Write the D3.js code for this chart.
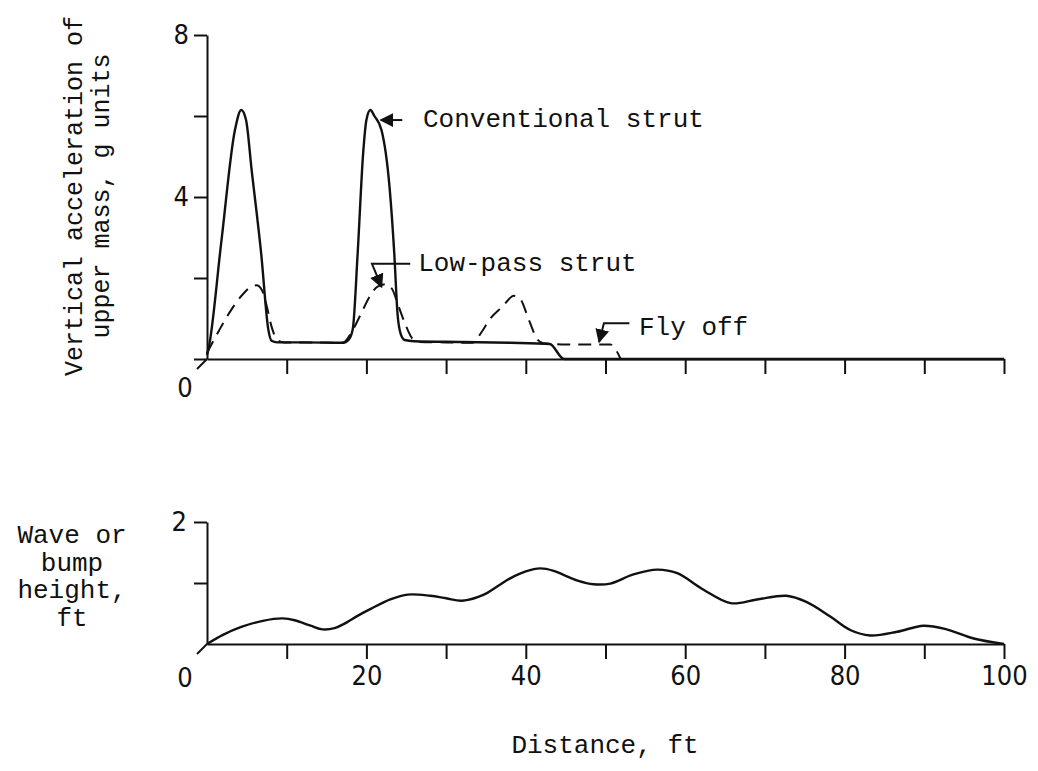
<!DOCTYPE html>
<html>
<head>
<meta charset="utf-8">
<script src="https://cdn.jsdelivr.net/npm/d3@7"></script>
<style>
  body { margin: 0; background: #fff; }
  .type { font-family: "Liberation Mono", "Cousine", "Nimbus Mono PS", "FreeMono", "Courier New", Courier, "DejaVu Sans Mono", monospace; font-size: 26px; fill: #111; }
  .num { font-family: "Liberation Sans Narrow", "DejaVu Sans Condensed", "DejaVu Sans", sans-serif; font-stretch: condensed; font-size: 27px; fill: #111; }
  .axis path, .axis line { stroke: #111; stroke-width: 2; }
</style>
</head>
<body>
<svg id="chart" width="1038" height="771"></svg>
<script>
// conventional strut, upper mass acceleration (g) vs distance (ft)
const convDist  = [0, 0.2, 1.8, 3.5, 4.3, 4.9, 5.6, 6.8, 7.7, 8.1, 8.8, 12, 17.1, 17.8, 18.3, 18.9, 19.6, 20.0, 20.5, 21.0, 21.9, 22.9, 23.5, 23.9, 24.3, 24.8, 26, 32, 38, 43, 44.8, 100]
const convAccel = [0.1, 0.26, 2.9, 5.65, 6.15, 5.9, 4.67, 2.6, 0.72, 0.45, 0.41, 0.41, 0.40, 0.48, 0.75, 2.6, 5.1, 5.9, 6.15, 6.0, 5.65, 4.25, 2.6, 1.13, 0.62, 0.47, 0.44, 0.42, 0.40, 0.37, 0, 0]

// low-pass strut
const lowDist  = [0, 1.5, 3, 4.5, 5.5, 6.2, 6.9, 7.5, 8.1, 8.8, 9.6, 13, 17, 18.3, 19.4, 20.4, 21.4, 22.5, 23.3, 23.9, 24.5, 25, 25.8, 26.7, 30, 33.3, 34.5, 35.4, 37.1, 38.5, 39.3, 40.4, 41.5, 42.2, 45, 50.6, 51.9]
const lowAccel = [0.15, 0.7, 1.2, 1.6, 1.78, 1.82, 1.7, 1.3, 0.8, 0.48, 0.41, 0.41, 0.40, 0.72, 1.15, 1.54, 1.79, 1.85, 1.7, 1.38, 1.05, 0.8, 0.5, 0.42, 0.41, 0.40, 0.68, 0.96, 1.3, 1.56, 1.48, 0.96, 0.47, 0.39, 0.36, 0.36, 0]

// wave or bump height (ft) vs distance (ft)
const waveDist   = [0, 2, 4.3, 7, 9.5, 11, 13, 14.5, 16, 17.2, 19, 20.6, 23, 25.2, 28, 30, 32, 34.6, 36.5, 38.1, 40, 41.8, 43.5, 44.8, 46.5, 48.5, 50.6, 53.5, 56.5, 59, 62.3, 65.7, 69, 72.7, 75.2, 78.2, 80.7, 83.2, 86.6, 89.9, 92.8, 96.2, 100]
const waveHeight = [0, 0.15, 0.28, 0.38, 0.42, 0.39, 0.30, 0.24, 0.26, 0.33, 0.47, 0.58, 0.73, 0.81, 0.79, 0.75, 0.71, 0.80, 0.95, 1.08, 1.19, 1.24, 1.2, 1.13, 1.04, 0.98, 0.99, 1.14, 1.22, 1.16, 0.89, 0.67, 0.73, 0.79, 0.69, 0.45, 0.23, 0.14, 0.20, 0.30, 0.24, 0.09, 0]

const distTicks = [10, 20, 30, 40, 50, 60, 70, 80, 90, 100]
const accelTicks = [0, 2, 4, 6, 8]
const accelLabels = [4, 8]
const waveTicks = [1, 2]
const waveLabels = [2]

const svg = d3.select("#chart")

let x = d3.scaleLinear().domain([0, 100]).range([207, 1004])
let yTop = d3.scaleLinear().domain([0, 8]).range([359, 35])
let yBot = d3.scaleLinear().domain([0, 2]).range([644, 522])

// top panel axes
svg.append("g")
  .attr("class", "axis")
  .attr("transform", `translate(0,${yTop(0)})`)
  .call(d3.axisBottom(x).tickValues(distTicks).tickSize(15).tickSizeOuter(0).tickFormat(""))

svg.append("g")
  .attr("class", "axis")
  .attr("transform", `translate(${x(0)},0)`)
  .call(d3.axisLeft(yTop).tickValues(accelTicks).tickSize(13).tickSizeOuter(0).tickPadding(5)
    .tickFormat(d => accelLabels.includes(d) ? d : ""))

// bottom panel axes
let botX = svg.append("g")
  .attr("class", "axis")
  .attr("transform", `translate(0,${yBot(0)})`)
  .call(d3.axisBottom(x).tickValues(distTicks).tickSize(15).tickSizeOuter(0)
    .tickFormat(d => d % 20 === 0 ? d : ""))
botX.selectAll("text").attr("y", 22)

svg.append("g")
  .attr("class", "axis")
  .attr("transform", `translate(${x(0)},0)`)
  .call(d3.axisLeft(yBot).tickValues(waveTicks).tickSize(13).tickSizeOuter(0).tickPadding(7)
    .tickFormat(d => waveLabels.includes(d) ? d : ""))

svg.selectAll(".axis").attr("font-family", null).attr("font-size", null)
svg.selectAll(".axis text").attr("class", "num").attr("fill", null)

// origin strokes and zero labels
;[yTop(0), yBot(0)].forEach((y0, i) => {
  svg.append("line")
    .attr("x1", x(0)).attr("y1", y0)
    .attr("x2", x(0) - 10).attr("y2", y0 + 10)
    .attr("stroke", "#111").attr("stroke-width", 2)
  svg.append("text")
    .attr("class", "num")
    .attr("x", x(0) - 22).attr("y", y0 + (i === 0 ? 28 : 33))
    .attr("text-anchor", "middle")
    .attr("dominant-baseline", "central")
    .text("0")
})

// curves
let lineTop = d3.line().x(d => x(d[0])).y(d => yTop(d[1])).curve(d3.curveMonotoneX)
let lineBot = d3.line().x(d => x(d[0])).y(d => yBot(d[1])).curve(d3.curveCatmullRom.alpha(0.5))

svg.append("path")
  .datum(lowDist.map((d, i) => [d, lowAccel[i]]))
  .attr("d", lineTop)
  .attr("fill", "none").attr("stroke", "#111").attr("stroke-width", 2)
  .attr("stroke-dasharray", "13,8")

svg.append("path")
  .datum(convDist.map((d, i) => [d, convAccel[i]]))
  .attr("d", lineTop)
  .attr("fill", "none").attr("stroke", "#111").attr("stroke-width", 2.4)

svg.append("path")
  .datum(waveDist.map((d, i) => [d, waveHeight[i]]))
  .attr("d", lineBot)
  .attr("fill", "none").attr("stroke", "#111").attr("stroke-width", 2.4)

// annotations with arrows
svg.append("defs").append("marker")
  .attr("id", "arrow")
  .attr("viewBox", "0 0 10 10")
  .attr("refX", 9).attr("refY", 5)
  .attr("markerWidth", 7).attr("markerHeight", 7)
  .attr("orient", "auto-start-reverse")
  .append("path").attr("d", "M0,0 L10,5 L0,10 Z").attr("fill", "#111")

let notes = [
  { label: "Conventional strut", pts: [[24.5, 5.9], [21.8, 5.9]], tx: 27.1, ty: 5.9 },
  { label: "Low-pass strut", pts: [[25.5, 2.35], [20.7, 2.35], [21.9, 1.78]], tx: 26.5, ty: 2.35 },
  { label: "Fly off", pts: [[53.0, 0.88], [49.8, 0.88], [49.2, 0.42]], tx: 54.2, ty: 0.77 }
]

notes.forEach(n => {
  svg.append("path")
    .attr("d", d3.line().x(d => x(d[0])).y(d => yTop(d[1]))(n.pts))
    .attr("fill", "none").attr("stroke", "#111").attr("stroke-width", 2)
    .attr("marker-end", "url(#arrow)")
  svg.append("text")
    .attr("class", "type")
    .attr("x", x(n.tx)).attr("y", yTop(n.ty))
    .attr("dominant-baseline", "central")
    .text(n.label)
})

// axis titles
let yTitle = svg.append("text")
  .attr("class", "type")
  .style("font-size", "25px")
  .attr("transform", "translate(95,196) rotate(-90)")
  .attr("text-anchor", "middle")
yTitle.append("tspan").attr("x", 0).attr("y", -13).text("Vertical acceleration of")
yTitle.append("tspan").attr("x", 0).attr("y", 14).text("upper mass, g units")

let waveTitle = ["Wave or", "bump", "height,", "ft"]
svg.append("text")
  .attr("class", "type")
  .attr("text-anchor", "middle")
  .selectAll("tspan")
  .data(waveTitle)
  .enter().append("tspan")
  .attr("x", 72)
  .attr("y", (d, i) => 543 + i * 27.5)
  .text(d => d)

svg.append("text")
  .attr("class", "type")
  .attr("x", 605).attr("y", 753)
  .attr("text-anchor", "middle")
  .text("Distance, ft")
</script>
</body>
</html>
